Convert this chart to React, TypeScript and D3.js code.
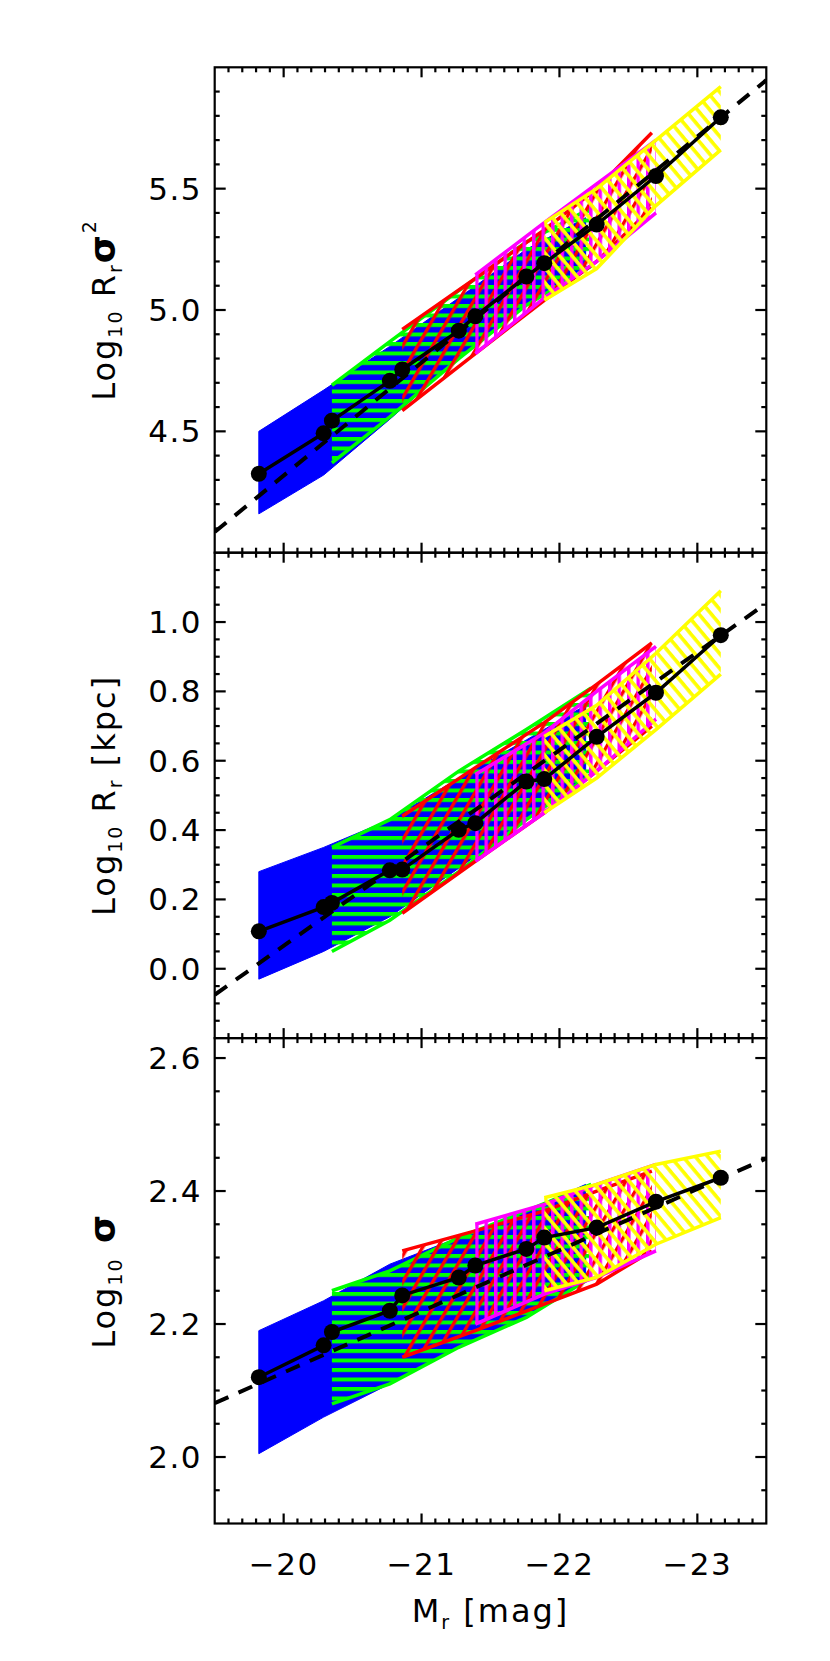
import React from 'react';
import * as d3 from 'd3';

// ---------- data ----------
const xMajor = [-20, -21, -22, -23];
const xLabels = ['\u221220', '\u221221', '\u221222', '\u221223'];

const yDomain1 = [4.0, 6.0];
const yDomain2 = [-0.2, 1.2];
const yDomain3 = [1.9, 2.63];
const yMajor1 = [4.5, 5.0, 5.5];
const yMajor2 = [0.0, 0.2, 0.4, 0.6, 0.8, 1.0];
const yMajor3 = [2.0, 2.2, 2.4, 2.6];
const yLabels1 = ['4.5', '5.0', '5.5'];
const yLabels2 = ['0.0', '0.2', '0.4', '0.6', '0.8', '1.0'];
const yLabels3 = ['2.0', '2.2', '2.4', '2.6'];

const blackM = [-19.82, -20.29, -20.35, -20.77, -20.86, -21.27, -21.39, -21.76, -21.89, -22.27, -22.70, -23.17];
const blackP1 = [4.325, 4.492, 4.544, 4.708, 4.755, 4.915, 4.974, 5.138, 5.193, 5.352, 5.552, 5.794];
const blackP2 = [0.108, 0.178, 0.190, 0.284, 0.286, 0.401, 0.420, 0.540, 0.547, 0.669, 0.796, 0.962];
const blackP3 = [2.120, 2.168, 2.188, 2.220, 2.243, 2.270, 2.288, 2.313, 2.330, 2.345, 2.384, 2.420];

const dashM = [-19.5, -23.5];
const dashP1 = [4.085, 5.947];
const dashP2 = [-0.075, 1.054];
const dashP3 = [2.081, 2.449];

const blueM = [-19.82, -20.29, -20.77, -21.27, -21.76, -22.19];
const blueLo1 = [4.16, 4.32, 4.55, 4.80, 5.02, 5.18];
const blueHi1 = [4.50, 4.67, 4.85, 5.05, 5.25, 5.38];
const blueLo2 = [-0.03, 0.05, 0.15, 0.29, 0.43, 0.55];
const blueHi2 = [0.28, 0.35, 0.43, 0.55, 0.66, 0.76];
const blueLo3 = [2.005, 2.06, 2.11, 2.165, 2.21, 2.265];
const blueHi3 = [2.19, 2.235, 2.29, 2.33, 2.37, 2.41];

const greenM = [-20.35, -20.77, -21.27, -21.76, -22.23];
const greenLo1 = [4.37, 4.56, 4.80, 5.02, 5.18];
const greenHi1 = [4.69, 4.87, 5.08, 5.28, 5.42];
const greenLo2 = [0.05, 0.14, 0.28, 0.43, 0.56];
const greenHi2 = [0.35, 0.43, 0.57, 0.69, 0.81];
const greenLo3 = [2.08, 2.11, 2.165, 2.21, 2.27];
const greenHi3 = [2.25, 2.28, 2.33, 2.37, 2.41];

const redM = [-20.86, -21.39, -21.89, -22.27, -22.67];
const redLo1 = [4.585, 4.82, 5.04, 5.20, 5.42];
const redHi1 = [4.92, 5.13, 5.33, 5.50, 5.73];
const redLo2 = [0.16, 0.31, 0.45, 0.57, 0.70];
const redHi2 = [0.44, 0.58, 0.71, 0.82, 0.94];
const redLo3 = [2.15, 2.19, 2.23, 2.26, 2.31];
const redHi3 = [2.31, 2.34, 2.37, 2.40, 2.43];

const magM = [-21.39, -21.89, -22.27, -22.70];
const magLo1 = [4.82, 5.05, 5.20, 5.40];
const magHi1 = [5.145, 5.36, 5.52, 5.70];
const magLo2 = [0.31, 0.45, 0.57, 0.72];
const magHi2 = [0.56, 0.68, 0.80, 0.93];
const magLo3 = [2.20, 2.245, 2.27, 2.31];
const magHi3 = [2.35, 2.38, 2.41, 2.44];

const yelM = [-21.89, -22.27, -22.70, -23.17];
const yelLo1 = [5.04, 5.17, 5.43, 5.66];
const yelHi1 = [5.36, 5.50, 5.70, 5.92];
const yelLo2 = [0.45, 0.55, 0.69, 0.85];
const yelHi2 = [0.67, 0.76, 0.91, 1.09];
const yelLo3 = [2.25, 2.27, 2.32, 2.36];
const yelHi3 = [2.39, 2.41, 2.44, 2.46];

// ---------- layout ----------
const W = 830, H = 1661;
const X0 = 214.7, X1 = 766.3;
const tops = [67.3, 552.7, 1038.1];
const PH = 485.4;
const FONT = '"DejaVu Sans", "Liberation Sans", sans-serif';

const x = d3.scaleLinear().domain([-19.5, -23.5]).range([X0, X1]);

type Band = { M: number[]; lo: number[]; hi: number[]; color: string; fill: string };

function makeBands(p: number): Band[] {
  const pick = (a: number[][]) => a[p];
  return [
    { M: blueM, lo: pick([blueLo1, blueLo2, blueLo3]), hi: pick([blueHi1, blueHi2, blueHi3]), color: '#0000ff', fill: '#0000ff' },
    { M: greenM, lo: pick([greenLo1, greenLo2, greenLo3]), hi: pick([greenHi1, greenHi2, greenHi3]), color: '#00ff00', fill: 'url(#hGreen)' },
    { M: redM, lo: pick([redLo1, redLo2, redLo3]), hi: pick([redHi1, redHi2, redHi3]), color: '#ff0000', fill: 'url(#hRed)' },
    { M: magM, lo: pick([magLo1, magLo2, magLo3]), hi: pick([magHi1, magHi2, magHi3]), color: '#ff00ff', fill: 'url(#hMag)' },
    { M: yelM, lo: pick([yelLo1, yelLo2, yelLo3]), hi: pick([yelHi1, yelHi2, yelHi3]), color: '#ffff00', fill: 'url(#hYel)' },
  ];
}

const panels = [
  { dom: yDomain1, majors: yMajor1, labels: yLabels1, step: 0.1, black: blackP1, dash: dashP1 },
  { dom: yDomain2, majors: yMajor2, labels: yLabels2, step: 0.05, black: blackP2, dash: dashP2 },
  { dom: yDomain3, majors: yMajor3, labels: yLabels3, step: 0.05, black: blackP3, dash: dashP3 },
];

function Panel({ idx }: { idx: number }) {
  const P = panels[idx];
  const top = tops[idx];
  const y = d3.scaleLinear().domain(P.dom).range([top + PH, top]);
  const bands = makeBands(idx);
  const elems: React.ReactNode[] = [];

  bands.forEach((b, bi) => {
    const idxs = b.M.map((_, i) => i);
    const ar = d3.area<number>()
      .x((i) => x(b.M[i]))
      .y0((i) => y(b.lo[i]))
      .y1((i) => y(b.hi[i]));
    const lnHi = d3.line<number>().x((i) => x(b.M[i])).y((i) => y(b.hi[i]));
    const lnLo = d3.line<number>().x((i) => x(b.M[i])).y((i) => y(b.lo[i]));
    elems.push(<path key={'a' + bi} d={ar(idxs) || ''} fill={b.fill} stroke="none" />);
    if (bi === 0) {
      elems.push(<path key={'o' + bi} d={ar(idxs) || ''} fill="none" stroke={b.color} strokeWidth={1} />);
    } else {
      elems.push(<path key={'h' + bi} d={lnHi(idxs) || ''} fill="none" stroke={b.color} strokeWidth={3.5} />);
      elems.push(<path key={'l' + bi} d={lnLo(idxs) || ''} fill="none" stroke={b.color} strokeWidth={3.5} />);
    }
  });

  const bIdx = blackM.map((_, i) => i);
  const bl = d3.line<number>().x((i) => x(blackM[i])).y((i) => y(P.black[i]));
  const dl = d3.line<number>().x((i) => x(dashM[i])).y((i) => y(P.dash[i]));

  const ticks: React.ReactNode[] = [];
  for (let i = 1; i < 40; i++) {
    const m = -19.5 - i * 0.1;
    const major = Math.abs(m - Math.round(m)) < 1e-6;
    const L = major ? 10 : 5;
    const xx = x(m);
    ticks.push(<line key={'xt' + i} x1={xx} x2={xx} y1={top} y2={top + L} />);
    ticks.push(<line key={'xb' + i} x1={xx} x2={xx} y1={top + PH} y2={top + PH - L} />);
  }
  const n = Math.round((P.dom[1] - P.dom[0]) / P.step);
  for (let i = 0; i <= n + 1; i++) {
    const v = Math.round((P.dom[0] + i * P.step) * 1000) / 1000;
    if (v <= P.dom[0] + 1e-6 || v >= P.dom[1] - 1e-6) continue;
    const major = P.majors.some((mj) => Math.abs(mj - v) < 1e-6);
    const L = major ? 11 : 5;
    const yy = y(v);
    ticks.push(<line key={'yl' + i} x1={X0} x2={X0 + L} y1={yy} y2={yy} />);
    ticks.push(<line key={'yr' + i} x1={X1} x2={X1 - L} y1={yy} y2={yy} />);
  }

  return (
    <g>
      <defs>
        <clipPath id={'clip' + idx}>
          <rect x={X0} y={top} width={X1 - X0} height={PH} />
        </clipPath>
      </defs>
      <g clipPath={`url(#clip${idx})`}>
        {elems}
        <path d={bl(bIdx) || ''} fill="none" stroke="#000" strokeWidth={3.5} />
        {bIdx.map((i) => (
          <circle key={'c' + i} cx={x(blackM[i])} cy={y(P.black[i])} r={8} fill="#000" />
        ))}
        <path d={dl([0, 1]) || ''} fill="none" stroke="#000" strokeWidth={4} strokeDasharray="15 11" />
      </g>
      <g stroke="#000" strokeWidth={2.2}>{ticks}</g>
      <rect x={X0} y={top} width={X1 - X0} height={PH} fill="none" stroke="#000" strokeWidth={2.2} />
      {P.majors.map((v, i) => (
        <text key={'lab' + i} x={202} y={y(v) + 11} textAnchor="end" fontSize={31} letterSpacing={1.5} fontFamily={FONT}>
          {P.labels[i]}
        </text>
      ))}
    </g>
  );
}

export default function App() {
  const cy = (i: number) => tops[i] + PH / 2;
  return (
    <svg width={W} height={H} style={{ position: 'absolute', left: 0, top: 0, background: '#fff' }} xmlns="http://www.w3.org/2000/svg">
      <rect x={0} y={0} width={W} height={H} fill="#fff" />
      <defs>
        <pattern id="hGreen" patternUnits="userSpaceOnUse" width={20} height={9.5}>
          <rect x={0} y={0} width={20} height={4} fill="#00ff00" />
        </pattern>
        <pattern id="hRed" patternUnits="userSpaceOnUse" width={30} height={13} patternTransform="rotate(-60)">
          <rect x={0} y={0} width={30} height={3.4} fill="#ff0000" />
        </pattern>
        <pattern id="hMag" patternUnits="userSpaceOnUse" width={9.5} height={20}>
          <rect x={0} y={0} width={3.5} height={20} fill="#ff00ff" />
        </pattern>
        <pattern id="hYel" patternUnits="userSpaceOnUse" width={30} height={9.5} patternTransform="rotate(50)">
          <rect x={0} y={0} width={30} height={3.6} fill="#ffff00" />
        </pattern>
      </defs>
      <Panel idx={0} />
      <Panel idx={1} />
      <Panel idx={2} />
      {xMajor.map((m, i) => (
        <text key={'xl' + i} x={x(m)} y={1575} textAnchor="middle" fontSize={31} letterSpacing={1.5} fontFamily={FONT}>
          {xLabels[i]}
        </text>
      ))}
      <text x={(X0 + X1) / 2} y={1622} textAnchor="middle" fontSize={32} letterSpacing={2} fontFamily={FONT}>
        M<tspan fontSize={19} dy={7}>r</tspan>
        <tspan dy={-7}> [mag]</tspan>
      </text>
      <text transform={`translate(115, ${cy(0)}) rotate(-90)`} textAnchor="middle" fontSize={32} letterSpacing={2} fontFamily={FONT}>
        Log<tspan fontSize={19} dy={7}>10</tspan>
        <tspan dy={-7}> R</tspan>
        <tspan fontSize={19} dy={7}>r</tspan>
        <tspan dy={-7} fontWeight="bold" fontSize={36}>σ</tspan>
        <tspan fontSize={19} dy={-19}>2</tspan>
      </text>
      <text transform={`translate(115, ${cy(1)}) rotate(-90)`} textAnchor="middle" fontSize={32} letterSpacing={2} fontFamily={FONT}>
        Log<tspan fontSize={19} dy={7}>10</tspan>
        <tspan dy={-7}> R</tspan>
        <tspan fontSize={19} dy={7}>r</tspan>
        <tspan dy={-7}> [kpc]</tspan>
      </text>
      <text transform={`translate(115, ${cy(2)}) rotate(-90)`} textAnchor="middle" fontSize={32} letterSpacing={2} fontFamily={FONT}>
        Log<tspan fontSize={19} dy={7}>10</tspan>
        <tspan dy={-7} fontWeight="bold" fontSize={36}> σ</tspan>
      </text>
    </svg>
  );
}
